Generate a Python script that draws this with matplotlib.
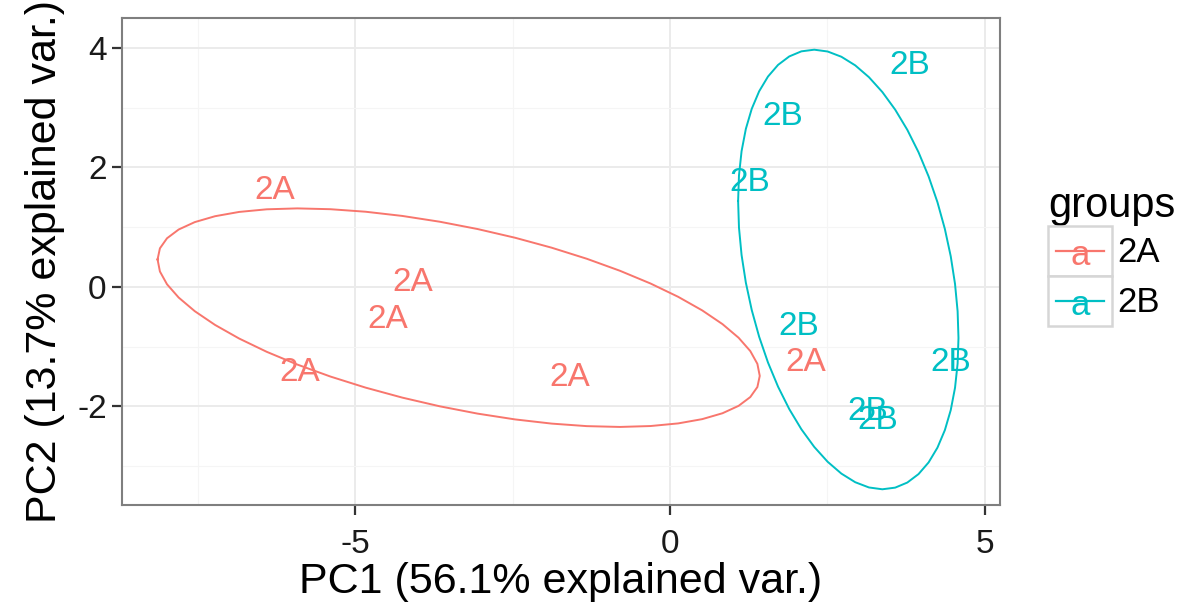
import numpy as np
import matplotlib
matplotlib.use("Agg")
import matplotlib.pyplot as plt
from matplotlib.legend_handler import HandlerBase
from matplotlib.lines import Line2D
from matplotlib.patches import Rectangle
from matplotlib.text import Text

plt.rcParams['font.family'] = ['Liberation Sans', 'DejaVu Sans']
plt.rcParams['axes.unicode_minus'] = False

# PCA scores
pc1_2a = [-6.27, -4.08, -4.48, -5.87, -1.59, 2.16]
pc2_2a = [1.62, 0.07, -0.55, -1.44, -1.52, -1.27]
pc1_2b = [3.81, 1.79, 1.27, 2.05, 4.46, 3.14, 3.30]
pc2_2b = [3.70, 2.85, 1.74, -0.67, -1.26, -2.09, -2.23]
groups = ['2A', '2B']
colors = ['#F8766D', '#00BFC4']
ellipse_prob = 0.68

x_ticks = [-5, 0, 5]
y_ticks = [-2, 0, 2, 4]


def data_ellipse(x, y, prob):
    # same as ggbiplot: normal data ellipse
    theta = np.linspace(-np.pi, np.pi, 51)
    circle = np.column_stack([np.cos(theta), np.sin(theta)])
    ed = np.sqrt(-2 * np.log(1 - prob))
    sigma = np.cov(np.vstack([x, y]))
    mu = np.array([np.mean(x), np.mean(y)])
    return ed * circle @ np.linalg.cholesky(sigma).T + mu


class KeyHandler(HandlerBase):
    def create_artists(self, legend, orig_handle, xdescent, ydescent,
                       width, height, fontsize, trans):
        c = orig_handle.get_color()
        x0, y0 = -xdescent, -ydescent
        rect = Rectangle((x0, y0), width, height, facecolor='white',
                         edgecolor='#D6D6D6', lw=1.8, transform=trans)
        ym = y0 + height * 0.5
        line = Line2D([x0 + 0.12 * width, x0 + 0.88 * width], [ym, ym],
                      color=c, lw=1.6, transform=trans)
        txt = Text(x0 + width / 2, y0 + height * 0.42, 'a', color=c,
                   ha='center', va='center', fontsize=fontsize, transform=trans)
        return [rect, line, txt]


fig = plt.figure(figsize=(12.01, 6.14), dpi=100)
ax = fig.add_axes([122 / 1201, 1 - 505 / 614, 878 / 1201, 487 / 614])

ax.set_xlim(-8.7, 5.24)
ax.set_ylim(-3.65, 4.5)
ax.set_xticks(x_ticks)
ax.set_yticks(y_ticks)
ax.set_xticks([-7.5, -2.5, 2.5], minor=True)
ax.set_yticks([-3, -1, 1, 3], minor=True)
ax.grid(which='major', color='#EBEBEB', lw=1.4)
ax.grid(which='minor', color='#F5F5F5', lw=0.8)
ax.set_axisbelow(True)
ax.tick_params(which='minor', length=0)
ax.tick_params(which='major', length=7, width=1.6, color='#333333',
               labelsize=24, labelcolor='#1a1a1a')
ax.tick_params(axis='x', pad=10)
ax.tick_params(axis='y', pad=4)
for s in ax.spines.values():
    s.set_color('#7F7F7F')
    s.set_linewidth(1.5)

handles = []
for g, xs, ys, c in zip(groups, [pc1_2a, pc1_2b], [pc2_2a, pc2_2b], colors):
    e = data_ellipse(np.array(xs), np.array(ys), ellipse_prob)
    h, = ax.plot(e[:, 0], e[:, 1], color=c, lw=1.4, label=g)
    handles.append(h)
    for xi, yi in zip(xs, ys):
        ax.text(xi, yi, g, color=c, fontsize=24, ha='center', va='center')

ax.set_xlabel('PC1 (56.1% explained var.)', fontsize=31, labelpad=2)
ax.set_ylabel('PC2 (13.7% explained var.)', fontsize=31, labelpad=9)

leg = fig.legend(handles=handles, labels=groups, title='groups',
                 handler_map={Line2D: KeyHandler()},
                 loc='upper left', bbox_to_anchor=(1048 / 1201, 1 - 186 / 614),
                 frameon=False, fontsize=25, title_fontsize=30,
                 handlelength=1.84, handleheight=1.84, labelspacing=0,
                 handletextpad=0.15, borderaxespad=0, borderpad=0,
                 alignment='left')

fig.savefig('out.png', dpi=100)
